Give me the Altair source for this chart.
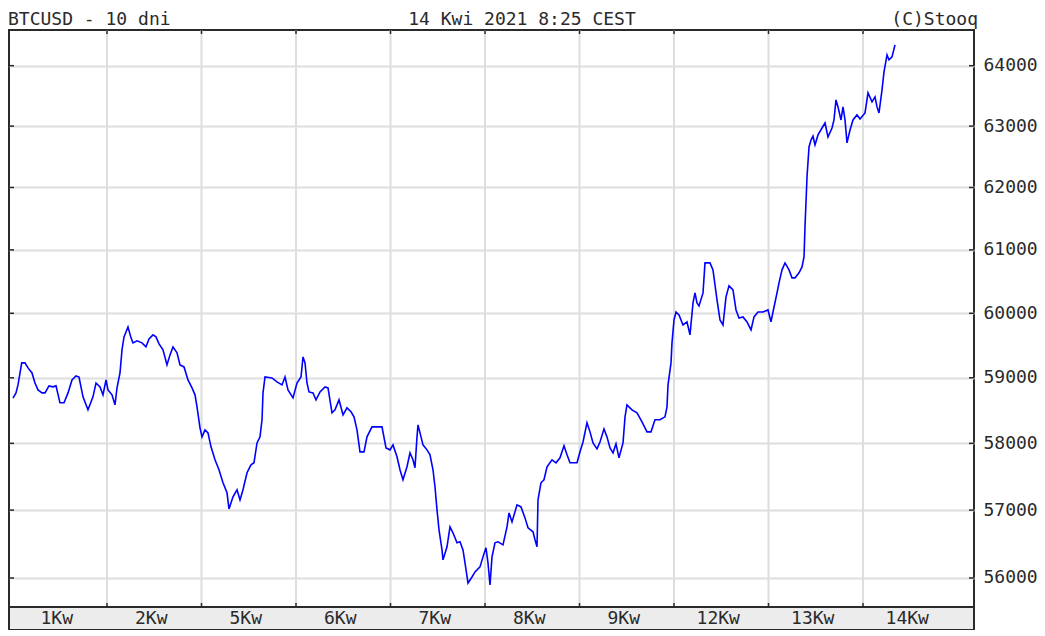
import altair as alt
import pandas as pd

# ---- data (hours since start of 1 Kwi trading view, price in USD) ----
hours = [
    0.13, 0.89, 1.40, 2.34, 3.17, 3.94, 4.95, 5.71, 6.48, 7.49,
    8.25, 9.27, 10.29, 11.05, 12.06, 13.08, 14.10, 15.11, 16.13, 16.89,
    17.90, 19.17, 20.44, 21.21, 22.22, 22.98, 23.75, 24.25, 25.27, 26.03,
    26.54, 27.30, 27.81, 28.32, 29.33, 30.10, 30.60, 31.62, 32.89, 33.90,
    34.67, 35.68, 36.44, 37.21, 38.22, 39.24, 40.00, 40.76, 41.78, 42.54,
    43.56, 44.57, 45.59, 46.35, 46.86, 47.62, 48.13, 48.89, 49.65, 50.41,
    51.43, 52.44, 53.46, 54.48, 54.98, 56.00, 57.02, 57.78, 58.54, 59.56,
    60.57, 61.33, 62.10, 62.86, 63.37, 63.62, 64.13, 65.90, 67.17, 68.44,
    69.21, 69.97, 71.24, 72.25,
    73.27, 73.78, 74.29, 74.79, 75.30, 76.32, 77.08, 78.10, 79.37, 80.13,
    81.14, 81.90, 82.92, 83.94, 84.95, 85.97, 86.73, 87.49, 88.25, 89.27,
    90.03, 91.30, 92.57, 93.84, 94.86, 95.87, 96.63, 97.65, 98.41, 99.17,
    100.19, 100.95, 101.71, 102.22, 102.73, 102.98, 103.75, 104.25, 105.27, 106.03,
    106.79, 107.30, 107.81, 108.32, 109.08, 109.33, 110.35, 111.11, 111.87, 112.89,
    113.65, 114.41, 114.92, 115.68, 116.70, 117.46, 118.73, 119.49, 120.25, 120.76,
    121.27, 121.78, 122.54, 123.30, 124.57, 125.59, 126.10, 126.86, 128.13, 129.14,
    130.16, 130.92, 132.19, 132.70, 133.21, 133.46, 134.22, 134.98, 135.75, 137.02,
    138.03, 139.05,
    140.06, 140.83, 141.59, 143.37, 144.13, 144.89, 145.90, 146.67, 147.43, 148.44,
    149.21, 150.22, 150.98, 151.75, 152.51, 153.27, 154.03, 155.05, 155.56, 156.06,
    157.33, 158.60, 159.87, 161.14, 162.16, 163.17, 164.44, 165.71, 166.22, 166.48,
    167.24, 167.49, 168.00, 168.51, 169.27, 170.29, 171.30, 172.06, 172.83, 173.33,
    173.84, 174.35, 175.37, 175.87, 177.14, 177.90, 178.92, 179.68, 180.44, 181.21,
    181.97, 182.98, 183.75, 184.51, 185.52, 186.54, 187.56, 188.32, 189.33, 190.60,
    191.87, 192.63, 193.14,
    194.16, 194.67, 195.43, 196.19, 197.21, 197.97, 198.73, 199.75, 200.51, 201.02,
    201.27, 201.78, 202.29, 202.79, 203.30, 203.81, 204.57, 205.59, 206.35, 207.11,
    208.13, 208.63, 209.14, 209.65, 210.41, 210.92, 211.43, 211.94, 212.70, 213.46,
    214.48, 215.24, 216.51, 217.27, 218.29, 219.05, 219.56, 220.06, 220.83, 221.33,
    222.10, 222.60, 223.37, 224.13,
]
prices = [
    58687, 58768, 58890, 59229, 59229, 59152, 59074, 58920, 58814, 58768,
    58768, 58875, 58860, 58875, 58616, 58616, 58768, 58966, 59028, 59012,
    58707, 58509, 58707, 58920, 58860, 58738, 58966, 58814, 58738, 58585,
    58844, 59074, 59431, 59632, 59787, 59617, 59539, 59570, 59539, 59477,
    59601, 59663, 59632, 59524, 59431, 59198, 59353, 59477, 59384, 59198,
    59167, 58966, 58844, 58738, 58555, 58235, 58098, 58204, 58158, 57947,
    57752, 57602, 57407, 57257, 57017, 57197, 57302, 57152, 57302, 57557,
    57677, 57707, 58006, 58098, 58357, 58768, 59012, 58997, 58936, 58890,
    59012, 58814, 58692, 58920,
    59012, 59322, 59229, 58920, 58783, 58768, 58661, 58783, 58860, 58844,
    58463, 58509, 58661, 58433, 58539, 58479, 58402, 58204, 57872, 57872,
    58098, 58250, 58250, 58250, 57932, 57902, 57977, 57797, 57602, 57452,
    57647, 57857, 57752, 57632, 58098, 58280, 58098, 57977, 57902, 57827,
    57602, 57347, 57002, 56707, 56412, 56265, 56457, 56751, 56663, 56516,
    56530, 56412, 56221, 55926, 56015, 56088, 56162, 56309, 56442, 56221,
    55897, 56309, 56516, 56530, 56486, 56751, 56957, 56825, 57077, 57047,
    56884, 56737, 56678, 56560, 56457, 57152, 57407, 57452, 57647, 57752,
    57707, 57782,
    57962, 57827, 57707, 57707, 57872, 58021, 58311, 58174, 58006, 57917,
    58021, 58219, 58098, 57932, 57857, 57992, 57782, 58006, 58402, 58585,
    58509, 58463, 58326, 58174, 58174, 58357, 58357, 58402, 58555, 58890,
    59229, 59539, 59896, 60020, 59974, 59818, 59865, 59663, 60162, 60320,
    60162, 60115, 60320, 60793, 60793, 60683, 60210, 59896, 59818, 60257,
    60431, 60368, 60052, 59927, 59943, 59865, 59741, 59943, 60020, 60020,
    60052, 59865, 60020,
    60320, 60478, 60683, 60793, 60683, 60557, 60557, 60636, 60730, 60888,
    61367, 62171, 62659, 62773, 62838, 62692, 62855, 62969, 63051, 62822,
    62969, 63101, 63432, 63316, 63101, 63316, 63101, 62725, 62936, 63101,
    63184, 63118, 63217, 63548, 63399, 63482, 63316, 63217, 63598, 63896,
    64180, 64096, 64146, 64348,
]
day_labels = ["1Kw", "2Kw", "5Kw", "6Kw", "7Kw", "8Kw", "9Kw", "12Kw", "13Kw", "14Kw"]
y_ticks = [56000, 57000, 58000, 59000, 60000, 61000, 62000, 63000, 64000]
header_left = "BTCUSD - 10 dni"
header_mid = "14 Kwi 2021 8:25 CEST"
header_right = "(C)Stooq"

# ---- layout ----
W, H, BAND = 965, 600, 23
PLOT_H = H - BAND
FONT = "DejaVu Sans Mono"
FS = 18
DARK = "#2a2a2a"
GRID = "#dedede"

df = pd.DataFrame({"h": hours, "p": prices})
day_starts = [24 * i for i in range(1, len(day_labels))]
day_df = pd.DataFrame({"h": [24 * i + 12 for i in range(len(day_labels))], "label": day_labels})
grid_df = pd.DataFrame({"h": day_starts})
yt_df = pd.DataFrame({"p": y_ticks})
one = pd.DataFrame({"k": [0]})

xscale = alt.Scale(domain=[-0.889, 244.19], nice=False, zero=False)
yscale = alt.Scale(type="log", domain=[55578, 64598], range=[PLOT_H, 0], nice=False, zero=False)

x_axis = alt.Axis(values=day_starts, grid=False, labels=False, ticks=False, domain=False, title=None)
y_axis = alt.Axis(orient="right", values=y_ticks, grid=True, ticks=False, domain=False,
                  title=None, labelPadding=9, gridColor=GRID, gridWidth=2,
                  labelFont=FONT, labelFontSize=FS, labelColor=DARK, format="d",
                  labelBaseline="middle")


def X(field="h:Q"):
    return alt.X(field, scale=xscale, axis=x_axis)


def Y(field="p:Q"):
    return alt.Y(field, scale=yscale, axis=y_axis)


vgrid = alt.Chart(grid_df).mark_rule(color=GRID, strokeWidth=2).encode(
    x=X(), y=alt.value(0), y2=alt.value(PLOT_H)
)

line = alt.Chart(df).mark_line(color="#0000ff", strokeWidth=1.6).encode(x=X(), y=Y())

band = alt.Chart(one).mark_rect(fill="#ececec", stroke=DARK, strokeWidth=2).encode(
    x=alt.value(0), x2=alt.value(W), y=alt.value(PLOT_H), y2=alt.value(H)
)

top_ticks = alt.Chart(grid_df).mark_rule(color=DARK, strokeWidth=1.5).encode(
    x=X(), y=alt.value(0), y2=alt.value(4)
)
bot_ticks = alt.Chart(grid_df).mark_rule(color=DARK, strokeWidth=1.5).encode(
    x=X(), y=alt.value(PLOT_H - 4), y2=alt.value(PLOT_H)
)
left_ticks = alt.Chart(yt_df).mark_rule(color=DARK, strokeWidth=1.5).encode(
    y=Y(), x=alt.value(0), x2=alt.value(5)
)
right_ticks = alt.Chart(yt_df).mark_rule(color=DARK, strokeWidth=1.5).encode(
    y=Y(), x=alt.value(W - 5), x2=alt.value(W)
)

day_text = alt.Chart(day_df).mark_text(font=FONT, fontSize=FS, color=DARK, baseline="middle", dx=-3).encode(
    x=X(), y=alt.value(PLOT_H + 11.5), text="label:N"
)

hdr_l = alt.Chart(pd.DataFrame({"t": [header_left]})).mark_text(
    font=FONT, fontSize=FS, color=DARK, align="left", baseline="alphabetic"
).encode(x=alt.value(-1), y=alt.value(-5), text="t:N")
hdr_m = alt.Chart(pd.DataFrame({"t": [header_mid]})).mark_text(
    font=FONT, fontSize=FS, color=DARK, align="center", baseline="alphabetic"
).encode(x=alt.value(513), y=alt.value(-5), text="t:N")
hdr_r = alt.Chart(pd.DataFrame({"t": [header_right]})).mark_text(
    font=FONT, fontSize=FS, color=DARK, align="right", baseline="alphabetic"
).encode(x=alt.value(969), y=alt.value(-5), text="t:N")

chart = alt.layer(
    vgrid, line, band, top_ticks, bot_ticks, left_ticks, right_ticks, day_text, hdr_l, hdr_m, hdr_r
).properties(
    width=W, height=H,
    padding={"left": 1, "top": 22, "right": 63, "bottom": 0},
    autosize="none",
    background="white",
).configure_view(stroke=DARK, strokeWidth=2)

chart.save("out.html", embed_options={"renderer": "svg", "actions": False})
